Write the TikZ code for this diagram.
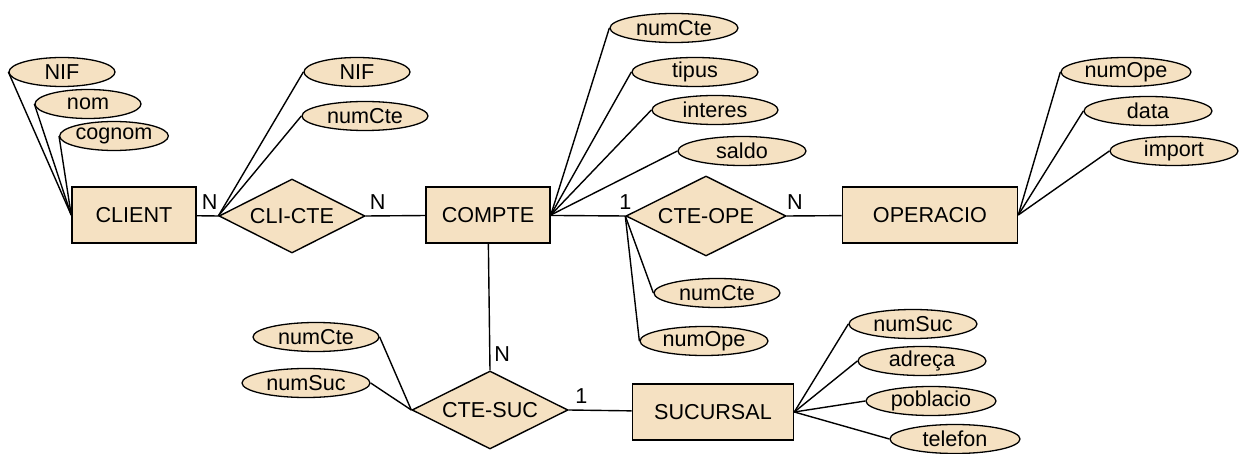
\documentclass[tikz,border=0pt]{standalone}
\usepackage{fontspec}
\setmainfont{Liberation Sans}
\usetikzlibrary{shapes.geometric}
\definecolor{beix}{RGB}{245,225,194}
\tikzset{
  entitat/.style={draw, fill=beix, line width=0.8pt, minimum height=28pt, inner sep=0pt},
  relacio/.style={draw, fill=beix, diamond, aspect=2.2, line width=0.7pt, inner sep=0pt},
  atribut/.style={draw, fill=beix, ellipse, line width=0.65pt, inner sep=0pt, minimum height=14.5pt},
  card/.style={inner sep=0pt},
  every node/.style={font=\fontsize{10.8}{12}\selectfont},
  con/.style={line width=0.7pt}
}
\begin{document}
\begin{tikzpicture}[x=0.5pt, y=-0.5pt]
    \useasboundingbox (0,0) rectangle (1239,454);

    % entitats
    \node[entitat, minimum width=62pt] (client) at (134,215) {CLIENT};
    \node[entitat, minimum width=62pt] (compte) at (488,215) {COMPTE};
    \node[entitat, minimum width=87.5pt] (operacio) at (930,215) {OPERACIO};
    \node[entitat, minimum width=80.5pt] (sucursal) at (713,412) {SUCURSAL};

    % relacions
    \node[relacio, minimum width=73pt, minimum height=37pt] (clicte) at (292,216) {CLI-CTE};
    \node[relacio, minimum width=80pt, minimum height=40pt] (cteope) at (706,216) {CTE-OPE};
    \node[relacio, minimum width=78pt, minimum height=39pt] (ctesuc) at (490,410) {CTE-SUC};

    \draw[con] (client) -- (clicte.west) node [card, pos=0.6, above=3pt] (nclient) {N};
    \draw[con] (clicte.east) -- (compte) node [card, pos=0.2, above=3pt] (ncompte) {N};
    \draw[con] (compte) -- (cteope.west) node [card, pos=1, above=3pt] (ucteope) {1};
    \draw[con] (cteope.east) -- (operacio) node [card, pos=0.15, above=3pt] (nope) {N};
    \draw[con] (compte) -- (ctesuc.north) node [card, pos=0.87, right=2pt] (nctesuc) {N};
    \draw[con] (ctesuc.east) -- (sucursal) node [card, pos=0.2, above=3pt] (usuc) {1};

    % atributs CLIENT
    \node[atribut, minimum width=53pt] (cnif) at (62,72) {NIF};
    \node[atribut, minimum width=53pt] (cnom) at (88,104) {nom};
    \node[atribut, minimum width=52pt] (ccognom) at (114,136) {cognom};
    \draw[con] (cnif.west) -- (client.west);
    \draw[con] (cnom.west) -- (client.west);
    \draw[con] (ccognom.west) -- (client.west);

    % atributs CLI-CTE
    \node[atribut, minimum width=53pt] (rnif) at (357,72) {NIF};
    \node[atribut, minimum width=63pt] (rnumcte) at (365,116) {numCte};
    \draw[con] (rnif.west) -- (clicte.west);
    \draw[con] (rnumcte.west) -- (clicte.west);

    % atributs COMPTE
    \node[atribut, minimum width=64pt] (knumcte) at (674,28) {numCte};
    \node[atribut, minimum width=63pt] (ktipus) at (695,72) {tipus};
    \node[atribut, minimum width=63pt] (kinteres) at (715,110) {interes};
    \node[atribut, minimum width=64pt] (ksaldo) at (742,151) {saldo};
    \draw[con] (knumcte.west) -- (compte.east);
    \draw[con] (ktipus.west) -- (compte.east);
    \draw[con] (kinteres.west) -- (compte.east);
    \draw[con] (ksaldo.west) -- (compte.east);

    % atributs OPERACIO
    \node[atribut, minimum width=65pt] (onumope) at (1126,72) {numOpe};
    \node[atribut, minimum width=64pt] (odata) at (1148,111) {data};
    \node[atribut, minimum width=64pt] (oimport) at (1174,151) {import};
    \draw[con] (onumope.west) -- (operacio.east);
    \draw[con] (odata.west) -- (operacio.east);
    \draw[con] (oimport.west) -- (operacio.east);

    % atributs CTE-OPE
    \node[atribut, minimum width=63pt] (pnumcte) at (717,293) {numCte};
    \node[atribut, minimum width=64pt] (pnumope) at (704,341) {numOpe};
    \draw[con] (pnumcte.west) -- (cteope.west);
    \draw[con] (pnumope.west) -- (cteope.west);

    % atributs CTE-SUC
    \node[atribut, minimum width=63pt] (snumcte) at (316,337) {numCte};
    \node[atribut, minimum width=64pt] (snumsuc) at (306,383) {numSuc};
    \draw[con] (snumcte.east) -- (ctesuc.west);
    \draw[con] (snumsuc.east) -- (ctesuc.west);

    % atributs SUCURSAL
    \node[atribut, minimum width=64pt] (unumsuc) at (913,324) {numSuc};
    \node[atribut, minimum width=64pt] (uadreca) at (922,361) {adreça};
    \node[atribut, minimum width=65pt] (upoblacio) at (931,401) {poblacio};
    \node[atribut, minimum width=65pt] (utelefon) at (955,439) {telefon};
    \draw[con] (unumsuc.west) -- (sucursal.east);
    \draw[con] (uadreca.west) -- (sucursal.east);
    \draw[con] (upoblacio.west) -- (sucursal.east);
    \draw[con] (utelefon.west) -- (sucursal.east);
\end{tikzpicture}
\end{document}
